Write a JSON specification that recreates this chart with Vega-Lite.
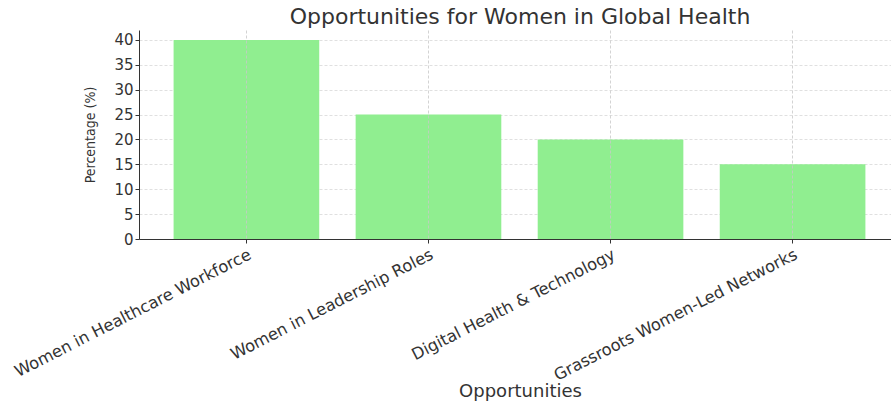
{
  "$schema": "https://vega.github.io/schema/vega-lite/v6.json",
  "autosize": {"type": "none"},
  "width": 752,
  "height": 209,
  "padding": {"left": 139, "top": 30, "right": 0, "bottom": 162},
  "background": "white",
  "title": {
    "text": "Opportunities for Women in Global Health",
    "font": "DejaVu Sans",
    "fontSize": 22,
    "fontWeight": "normal",
    "color": "#333333",
    "anchor": "middle",
    "dx": 5,
    "offset": 1
  },
  "config": {
    "view": {"stroke": null},
    "axis": {"labelFont": "DejaVu Sans", "titleFont": "DejaVu Sans", "labelColor": "#333333", "titleColor": "#333333", "domainColor": "#333333", "tickColor": "#333333"}
  },
  "data": {
    "values": [
      {"opportunity": "Women in Healthcare Workforce", "percentage": 40},
      {"opportunity": "Women in Leadership Roles", "percentage": 25},
      {"opportunity": "Digital Health & Technology", "percentage": 20},
      {"opportunity": "Grassroots Women-Led Networks", "percentage": 15}
    ]
  },
  "mark": {"type": "bar", "color": "#90EE90"},
  "encoding": {
    "x": {
      "field": "opportunity",
      "type": "nominal",
      "sort": null,
      "scale": {"range": [0, 761], "paddingInner": 0.2, "paddingOuter": 0.19},
      "axis": {
        "title": "Opportunities",
        "titleFontSize": 18,
        "titleFontWeight": "normal",
        "titleBaseline": "middle",
        "titleY": 152,
        "titleX": 381,
        "labelAngle": -27,
        "labelAlign": "right",
        "labelBaseline": "top",
        "labelFontSize": 16.3,
        "labelPadding": 3,
        "labelLimit": 400,
        "tickSize": 4,
        "domainWidth": 1,
        "grid": true,
        "gridColor": "#c8c8c8",
        "gridDash": [3, 2],
        "gridWidth": 0.8,
        "zindex": 1
      }
    },
    "y": {
      "field": "percentage",
      "type": "quantitative",
      "scale": {"domain": [0, 42], "nice": false},
      "axis": {
        "title": "Percentage (%)",
        "titleFont": "DejaVu Sans Condensed, Liberation Sans Narrow, DejaVu Sans",
        "titleFontSize": 14,
        "titleFontWeight": "normal",
        "titleBaseline": "middle",
        "titleX": -49,
        "values": [0, 5, 10, 15, 20, 25, 30, 35, 40],
        "labelFontSize": 15,
        "labelPadding": 2,
        "tickSize": 4,
        "grid": true,
        "gridColor": "#d8d8d8",
        "gridDash": [3, 2],
        "gridWidth": 0.8
      }
    }
  }
}
